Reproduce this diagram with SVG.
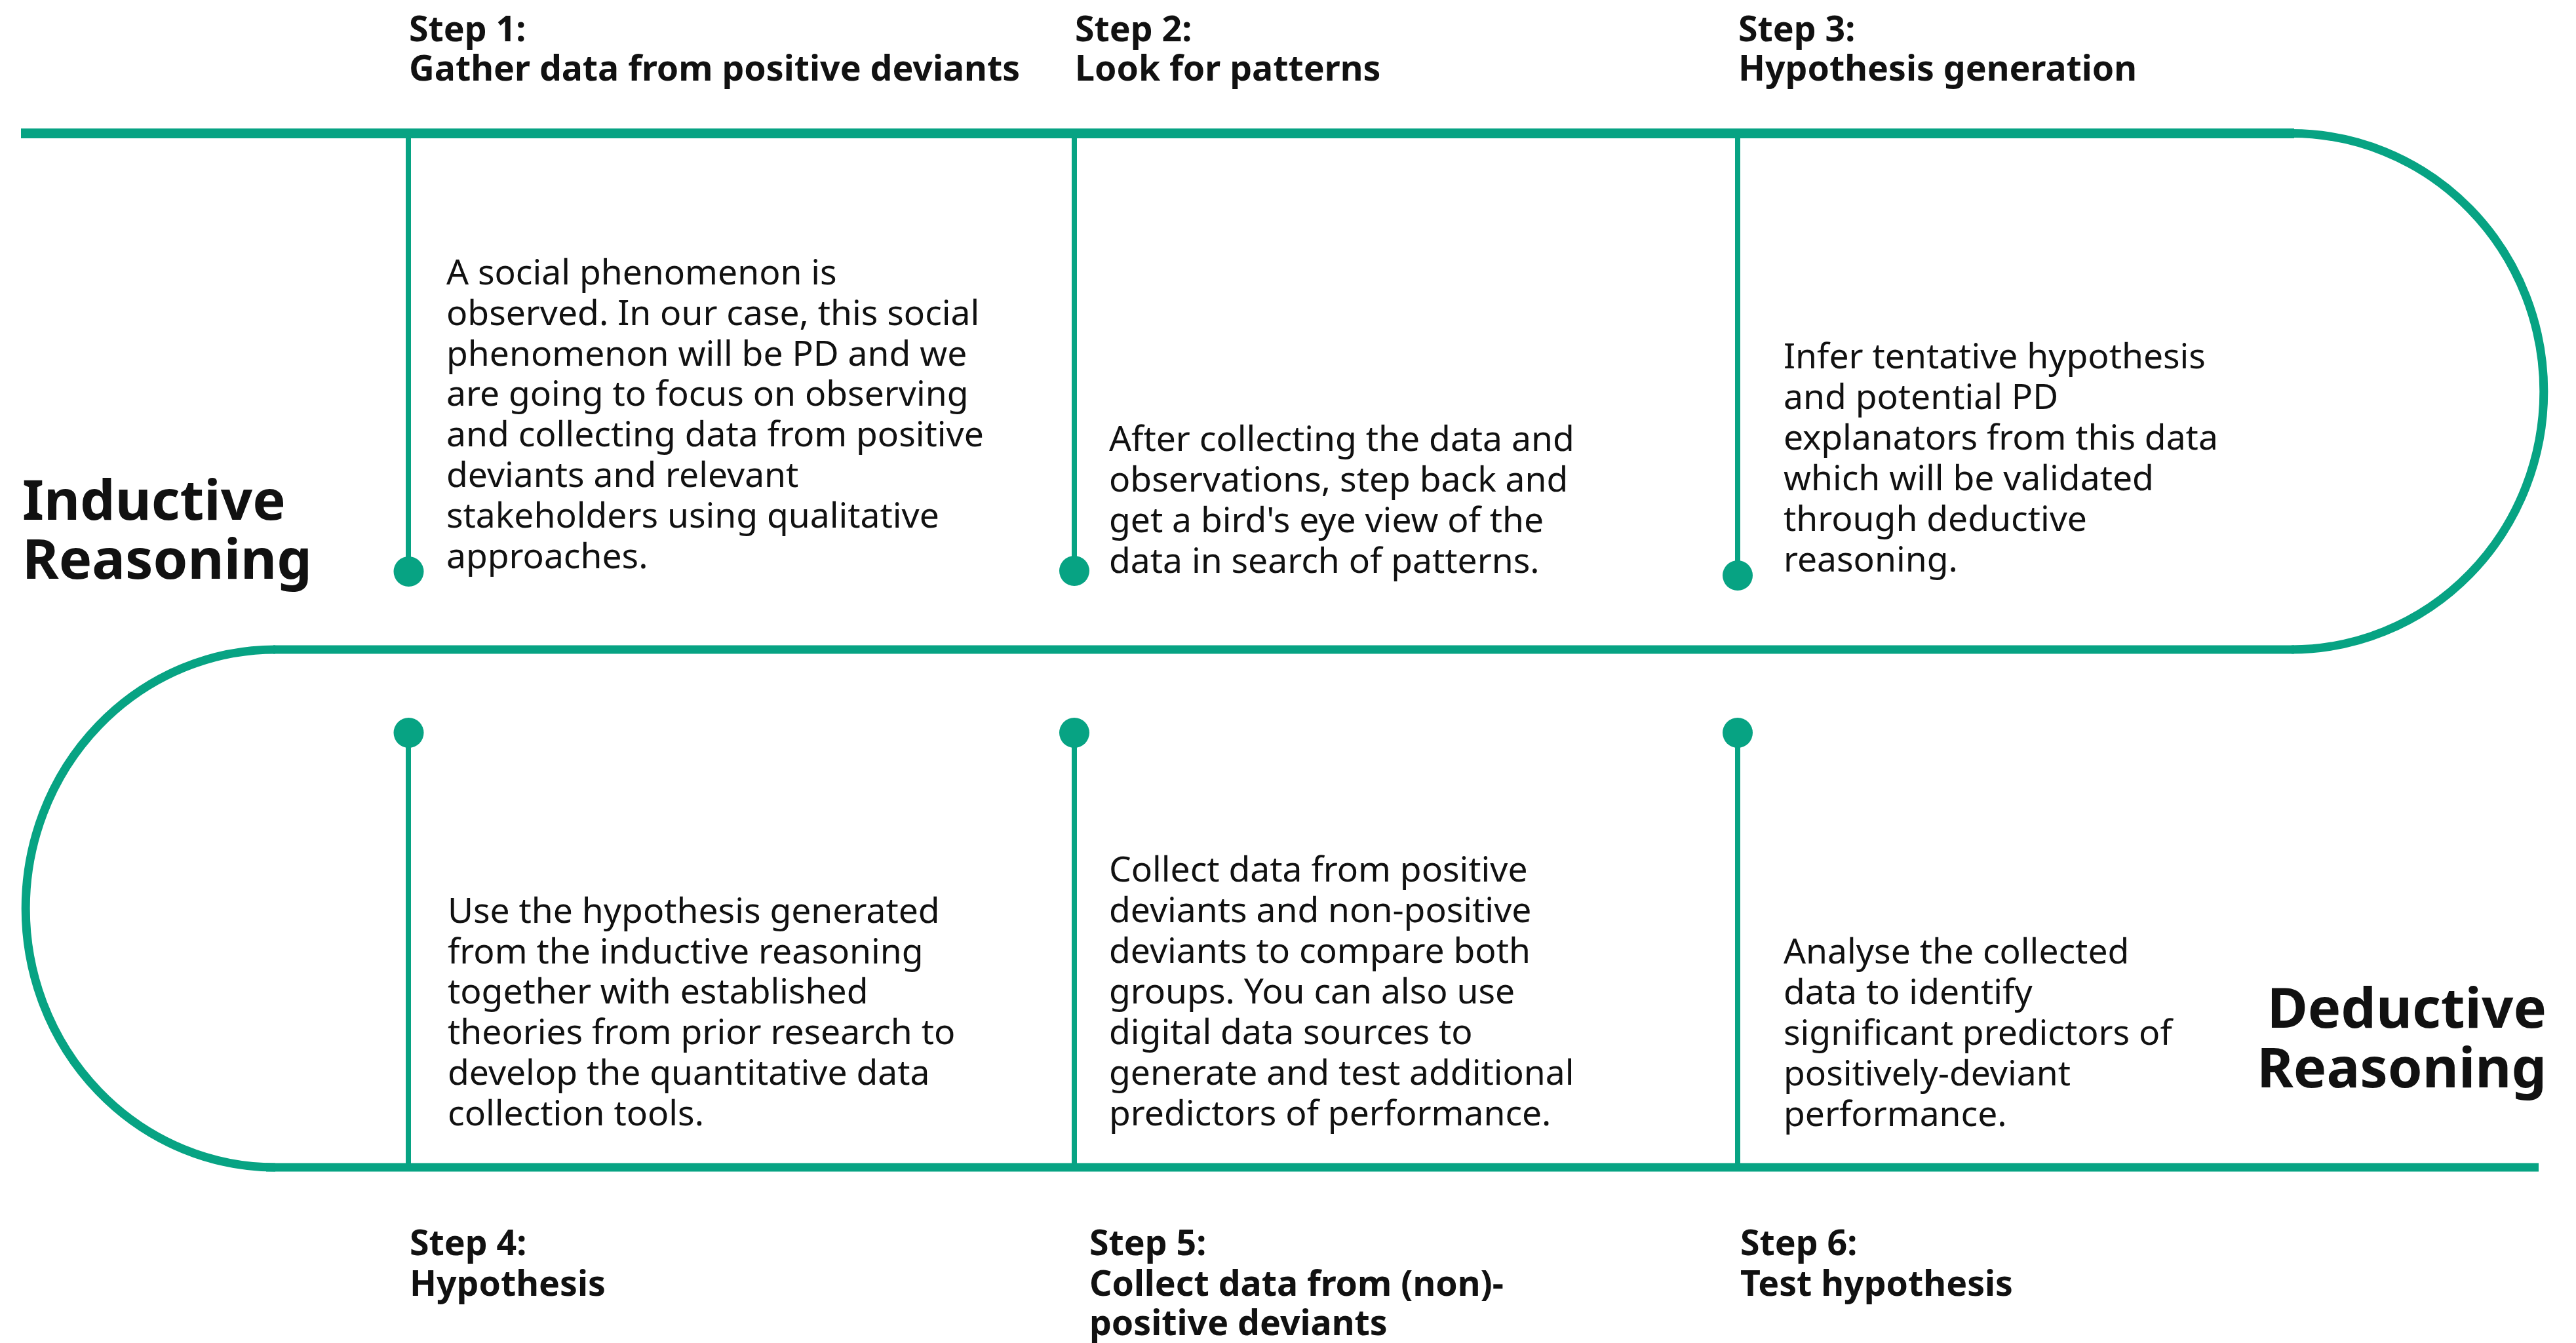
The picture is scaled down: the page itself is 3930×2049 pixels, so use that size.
<svg xmlns="http://www.w3.org/2000/svg" width="3930" height="2049" viewBox="0 0 3930 2049">
<style>
.track{fill:none;stroke:#07a383;stroke-width:13}
.stem{stroke:#07a383;stroke-width:8}
.dot{fill:#07a383}
text{font-family:"Noto Sans","Open Sans","Liberation Sans",sans-serif;fill:#111}
.t{font-size:53.6px;font-weight:700}
.b{font-size:53.4px;font-weight:400}
.big{font-size:84.8px;font-weight:700}
</style>
<rect width="3930" height="2049" fill="#fff"/>
<g id="connectors">
<line class="track" x1="32" y1="203.5" x2="3500" y2="203.5" style="stroke-width:15"/>
<path class="track" d="M3496 203.5 A385 393.75 0 0 1 3496 991"/>
<line class="track" x1="417" y1="991" x2="3500" y2="991"/>
<path class="track" d="M420 991 A381 395 0 0 0 420 1781"/>
<line class="track" x1="406" y1="1781" x2="3873" y2="1781"/>
</g>
<g id="label-inductive">
<text class="big" x="34" y="793">Inductive</text>
<text class="big" x="34" y="883">Reasoning</text>
</g>
<g id="label-deductive">
<text class="big" x="3885" y="1568" text-anchor="end">Deductive</text>
<text class="big" x="3885" y="1659" text-anchor="end">Reasoning</text>
</g>
<g id="step1">
<line class="stem" x1="623" y1="203" x2="623" y2="872"/>
<circle class="dot" cx="623.5" cy="872" r="23"/>
<text class="t" x="624" y="63">Step 1:</text>
<text class="t" x="624" y="123">Gather data from positive deviants</text>
<text class="b"><tspan x="681" y="434">A social phenomenon is</tspan><tspan x="681" y="496">observed. In our case, this social</tspan><tspan x="681" y="558">phenomenon will be PD and we</tspan><tspan x="681" y="619">are going to focus on observing</tspan><tspan x="681" y="681">and collecting data from positive</tspan><tspan x="681" y="743">deviants and relevant</tspan><tspan x="681" y="805">stakeholders using qualitative</tspan><tspan x="681" y="867">approaches.</tspan></text>
</g>
<g id="step2">
<line class="stem" x1="1639" y1="203" x2="1639" y2="871"/>
<circle class="dot" cx="1639" cy="871" r="23"/>
<text class="t" x="1640" y="63">Step 2:</text>
<text class="t" x="1640" y="123">Look for patterns</text>
<text class="b"><tspan x="1692" y="688">After collecting the data and</tspan><tspan x="1692" y="750">observations, step back and</tspan><tspan x="1692" y="812">get a bird's eye view of the</tspan><tspan x="1692" y="874">data in search of patterns.</tspan></text>
</g>
<g id="step3">
<line class="stem" x1="2651" y1="203" x2="2651" y2="878"/>
<circle class="dot" cx="2651" cy="878" r="23"/>
<text class="t" x="2652" y="63">Step 3:</text>
<text class="t" x="2652" y="123">Hypothesis generation</text>
<text class="b"><tspan x="2721" y="562">Infer tentative hypothesis</tspan><tspan x="2721" y="624">and potential PD</tspan><tspan x="2721" y="686">explanators from this data</tspan><tspan x="2721" y="748">which will be validated</tspan><tspan x="2721" y="810">through deductive</tspan><tspan x="2721" y="872">reasoning.</tspan></text>
</g>
<g id="step4">
<line class="stem" x1="623" y1="1118" x2="623" y2="1781"/>
<circle class="dot" cx="623.5" cy="1118" r="23"/>
<text class="t" x="625" y="1915">Step 4:</text>
<text class="t" x="625" y="1977">Hypothesis</text>
<text class="b"><tspan x="683" y="1408">Use the hypothesis generated</tspan><tspan x="683" y="1470">from the inductive reasoning</tspan><tspan x="683" y="1531">together with established</tspan><tspan x="683" y="1593">theories from prior research to</tspan><tspan x="683" y="1655">develop the quantitative data</tspan><tspan x="683" y="1717">collection tools.</tspan></text>
</g>
<g id="step5">
<line class="stem" x1="1639" y1="1118" x2="1639" y2="1781"/>
<circle class="dot" cx="1639" cy="1118" r="23"/>
<text class="t" x="1662" y="1915">Step 5:</text>
<text class="t" x="1662" y="1977">Collect data from (non)-</text>
<text class="t" x="1662" y="2037">positive deviants</text>
<text class="b"><tspan x="1692" y="1345">Collect data from positive</tspan><tspan x="1692" y="1407">deviants and non-positive</tspan><tspan x="1692" y="1469">deviants to compare both</tspan><tspan x="1692" y="1531">groups. You can also use</tspan><tspan x="1692" y="1593">digital data sources to</tspan><tspan x="1692" y="1655">generate and test additional</tspan><tspan x="1692" y="1717">predictors of performance.</tspan></text>
</g>
<g id="step6">
<line class="stem" x1="2651" y1="1118" x2="2651" y2="1781"/>
<circle class="dot" cx="2651" cy="1118" r="23"/>
<text class="t" x="2655" y="1915">Step 6:</text>
<text class="t" x="2655" y="1977">Test hypothesis</text>
<text class="b"><tspan x="2721" y="1470">Analyse the collected</tspan><tspan x="2721" y="1532">data to identify</tspan><tspan x="2721" y="1594">significant predictors of</tspan><tspan x="2721" y="1656">positively-deviant</tspan><tspan x="2721" y="1718">performance.</tspan></text>
</g>
</svg>
